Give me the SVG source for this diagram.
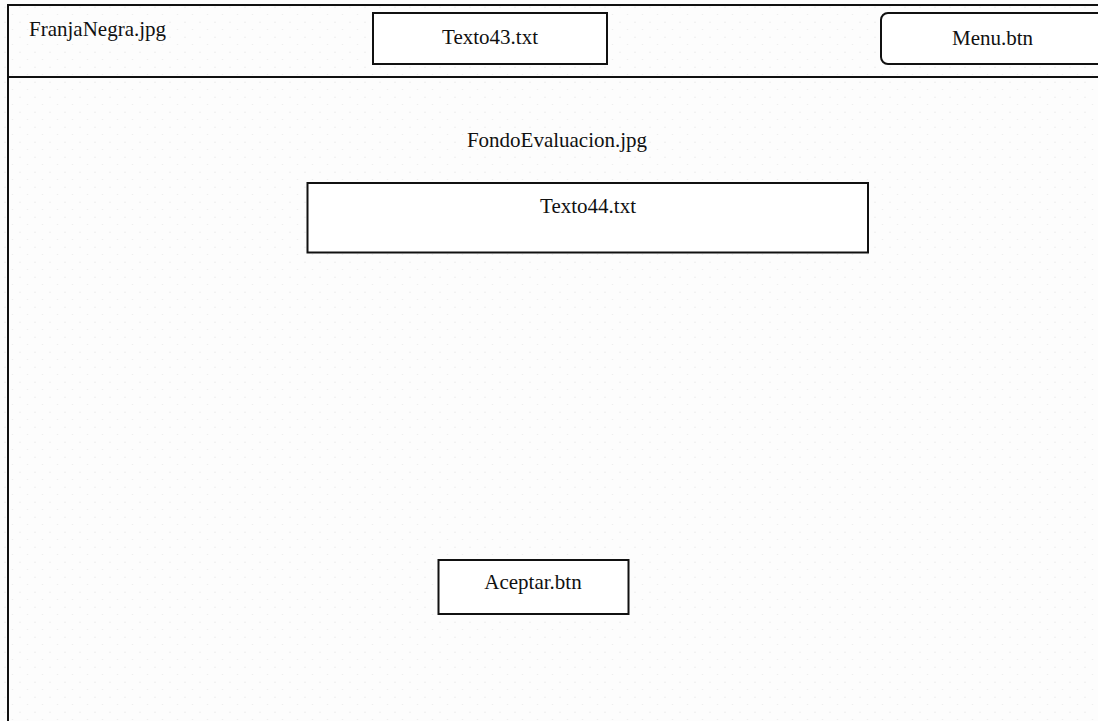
<svg xmlns="http://www.w3.org/2000/svg" width="1098" height="721" viewBox="0 0 1098 721">
  <style>
    .box { fill: #ffffff; stroke: #111111; stroke-width: 2; }
    .line { stroke: #111111; stroke-width: 2; fill: none; }
    .lbl { font-family: "Liberation Serif", "Times New Roman", serif; font-size: 21px; fill: #111111; }
    .mid { text-anchor: middle; }
  </style>
  <defs>
    <!-- faint staggered dot grid of the canvas -->
    <pattern id="dots" x="0" y="0" width="15" height="15" patternUnits="userSpaceOnUse">
      <circle cx="5" cy="7.3" r="0.8" fill="#ececec"/>
      <circle cx="12.5" cy="14.8" r="0.8" fill="#ececec"/>
    </pattern>
  </defs>

  <rect x="0" y="0" width="1098" height="721" fill="#fdfdfd"/>
  <rect x="0" y="0" width="1098" height="721" fill="url(#dots)"/>

  <!-- screen frame -->
  <g id="frame">
    <path class="line" d="M8,730 V5 H1110"/>
    <line class="line" x1="8" y1="77" x2="1110" y2="77"/>
  </g>

  <g id="franja-negra">
    <text class="lbl" x="29" y="36">FranjaNegra.jpg</text>
  </g>

  <g id="texto43">
    <rect class="box" x="373" y="13" width="234" height="51"/>
    <text class="lbl mid" x="490" y="44">Texto43.txt</text>
  </g>

  <g id="menu-btn">
    <rect class="box" x="881" y="13" width="230" height="51" rx="7" ry="7"/>
    <text class="lbl mid" x="992.5" y="45">Menu.btn</text>
  </g>

  <g id="fondo-evaluacion">
    <text class="lbl mid" x="557" y="147">FondoEvaluacion.jpg</text>
  </g>

  <g id="texto44">
    <rect class="box" x="307.5" y="183" width="560.5" height="69.5"/>
    <text class="lbl mid" x="588" y="213">Texto44.txt</text>
  </g>

  <g id="aceptar-btn">
    <rect class="box" x="438.5" y="560" width="190" height="54"/>
    <text class="lbl mid" x="533" y="589">Aceptar.btn</text>
  </g>

  <g id="connectors"></g>
</svg>
